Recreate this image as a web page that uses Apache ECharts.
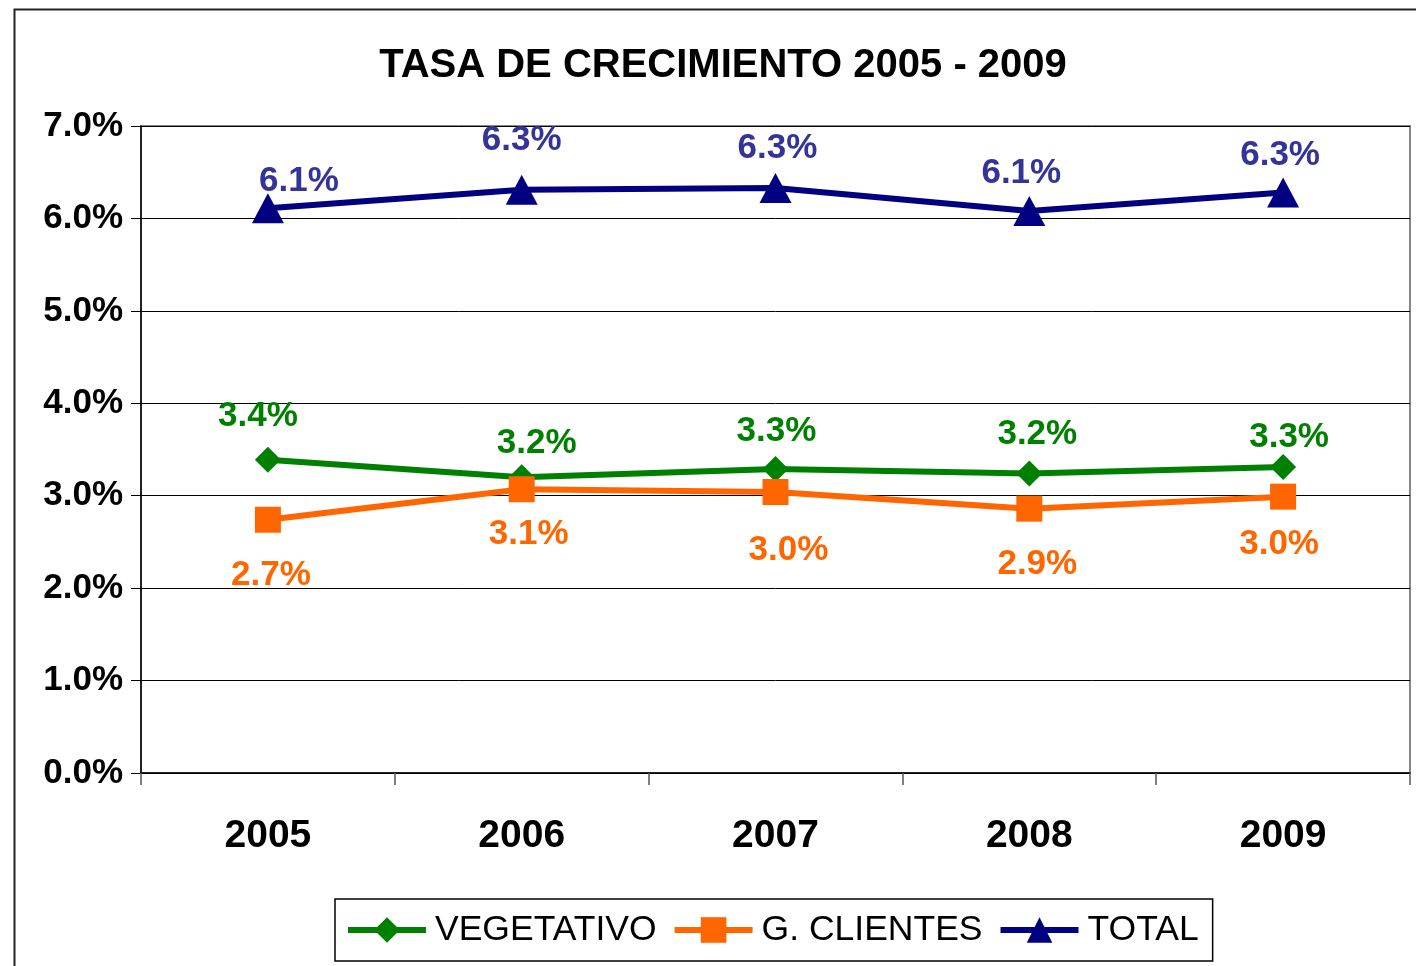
<!DOCTYPE html>
<html>
<head>
<meta charset="utf-8">
<title>Tasa de crecimiento 2005 - 2009</title>
<script src="https://cdn.jsdelivr.net/npm/echarts@6/dist/echarts.min.js"></script>
<style>
  html, body { margin: 0; padding: 0; background: #fff; }
  #main { width: 1416px; height: 966px; }
</style>
</head>
<body>
<div id="main"></div>
<script>
// datos (en %)
const years = ["2005", "2006", "2007", "2008", "2009"];
const vegetativo = [3.39, 3.20, 3.29, 3.24, 3.31];
const gClientes = [2.74, 3.07, 3.04, 2.86, 2.99];
const total = [6.11, 6.31, 6.33, 6.08, 6.28];
const yTicks = [0, 1, 2, 3, 4, 5, 6, 7];

// desplazamiento de las etiquetas respecto al punto (colocadas a mano como en Excel)
const vegOffsets = [[-10, -43], [15, -34], [1, -38], [8, -39], [6, -30]];
const cliOffsets = [[3, 56], [7, 45], [13, 58], [8, 56], [-4, 48]];
const totOffsets = [[31, -27], [0, -49], [2, -40], [-8, -38], [-3, -37]];

const labelFont = "Liberation Sans, Arial, sans-serif";

function withLabels(values, offsets, color) {
	return values.map((v, i) => ({
		value: v,
		label: {
			show: true,
			position: "inside",
			offset: offsets[i],
			color: color,
			fontFamily: labelFont,
			fontWeight: "bold",
			fontSize: 35,
			formatter: (p) => p.value.toFixed(1) + "%",
		},
	}));
}

const chart = echarts.init(document.getElementById("main"));

const option = {
	backgroundColor: "#fff",
	animation: false,
	title: {
		text: "TASA DE CRECIMIENTO 2005 - 2009",
		left: 718,
		textAlign: "center",
		top: 41,
		textStyle: {
			fontFamily: labelFont,
			fontWeight: "bold",
			fontSize: 40,
			color: "#000",
		},
	},
	graphic: [
		{
			type: "rect",
			left: 12,
			top: 7,
			shape: { width: 1500, height: 1100 },
			style: { fill: "none", stroke: "#222", lineWidth: 2 },
			silent: true,
		},
	],
	legend: {
		bottom: 5,
		left: 335,
		data: ["VEGETATIVO", "G. CLIENTES", "TOTAL"],
		itemWidth: 78,
		itemHeight: 32,
		itemGap: 15,
		padding: [13, 14, 13, 10],
		borderColor: "#000",
		borderWidth: 1.5,
		borderRadius: 0,
		lineStyle: { width: 6 },
		textStyle: {
			fontFamily: labelFont,
			fontSize: 35.5,
			color: "#000",
			padding: [0, 0, 0, 4],
		},
	},
	grid: {
		left: 141,
		right: 6,
		top: 126,
		bottom: 193,
		show: true,
		borderColor: "#888",
		borderWidth: 2,
	},
	xAxis: {
		type: "category",
		data: years,
		boundaryGap: true,
		axisLine: { lineStyle: { color: "#000", width: 1.5 } },
		axisTick: { show: true, length: 12, lineStyle: { color: "#555", width: 1.5 } },
		axisLabel: {
			margin: 44,
			color: "#000",
			fontFamily: labelFont,
			fontWeight: "bold",
			fontSize: 39,
		},
	},
	yAxis: {
		type: "value",
		min: yTicks[0],
		max: yTicks[yTicks.length - 1],
		interval: 1,
		axisLine: { show: true, lineStyle: { color: "#000", width: 1.5 } },
		axisTick: { show: true, length: 10, lineStyle: { color: "#000" } },
		splitLine: { show: true, lineStyle: { color: "#000", width: 1 } },
		axisLabel: {
			margin: 18,
			color: "#000",
			fontFamily: labelFont,
			fontWeight: "bold",
			fontSize: 35,
			padding: [5, 0, 0, 0],
			formatter: (v) => v.toFixed(1) + "%",
		},
	},
	series: [
		{
			name: "VEGETATIVO",
			type: "line",
			data: withLabels(vegetativo, vegOffsets, "#008000"),
			color: "#008000",
			lineStyle: { width: 6, color: "#008000" },
			symbol: "diamond",
			symbolSize: 26,
			itemStyle: { color: "#008000" },
			z: 3,
		},
		{
			name: "G. CLIENTES",
			type: "line",
			data: withLabels(gClientes, cliOffsets, "#FF6600"),
			color: "#FF6600",
			lineStyle: { width: 6, color: "#FF6600" },
			symbol: "rect",
			symbolSize: 26,
			itemStyle: { color: "#FF6600" },
			z: 4,
		},
		{
			name: "TOTAL",
			type: "line",
			data: withLabels(total, totOffsets, "#333399"),
			color: "#000080",
			lineStyle: { width: 6, color: "#000080" },
			symbol: "triangle",
			symbolSize: [32, 30],
			itemStyle: { color: "#000080" },
			z: 5,
		},
	],
};

chart.setOption(option);
</script>
</body>
</html>
